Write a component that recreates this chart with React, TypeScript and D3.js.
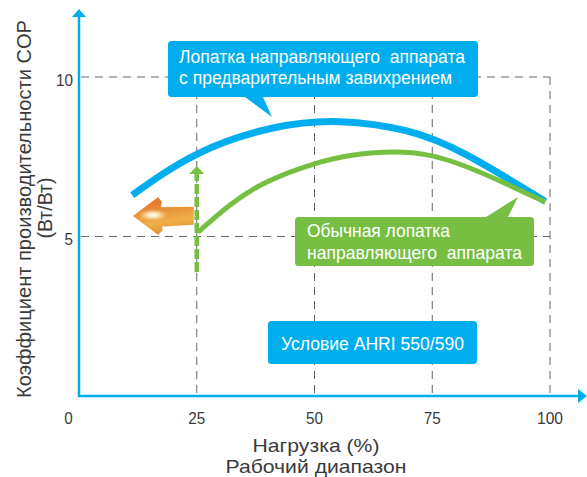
import React from 'react';
import * as d3 from 'd3';

const xTicks = [0, 25, 50, 75, 100];
const yTicks = [5, 10];

const blueLoad = [11.3, 25.3, 41.2, 55.4, 69.6, 82.4, 99];
const blueCop = [6.3, 7.6, 8.4, 8.6, 8.31, 7.55, 6.1];
const greenLoad = [25.3, 32, 40, 50, 58, 67, 75.2, 82.4, 89.4, 99];
const greenCop = [5.14, 5.98, 6.72, 7.28, 7.55, 7.65, 7.52, 7.18, 6.74, 6.08];

const blueLabel = ['Лопатка направляющего  аппарата', 'с предварительным завихрением'];
const blueLabelWidths = [286, 273];
const greenLabel = ['Обычная лопатка', 'направляющего  аппарата'];
const greenLabelWidths = [143, 215];
const conditionLabel = 'Условие AHRI 550/590';

const BLUE = '#00aeef';
const GREEN = '#76bf43';
const TEXT = '#3a3a3a';
const FONT = '"Liberation Sans", Arial, sans-serif';

const x = d3.scaleLinear().domain([0, 100]).range([79, 550]);
const y = d3.scaleLinear().domain([0, 10]).range([396, 77]);

const line = d3
  .line<[number, number]>()
  .x((d) => x(d[0]))
  .y((d) => y(d[1]))
  .curve(d3.curveNatural);

const pairs = (a: number[], b: number[]) => a.map((v, i) => [v, b[i]] as [number, number]);

function Callout({ box, tail, fill }: { box: number[]; tail: number[][]; fill: string }) {
  const [bx, by, bw, bh] = box;
  return (
    <g fill={fill}>
      <rect x={bx} y={by} width={bw} height={bh} rx={3.5} />
      {tail.length > 0 && <path d={`M${tail.map((p) => p.join(',')).join('L')}Z`} />}
    </g>
  );
}

export default function App() {
  return (
    <svg
      width={587}
      height={477}
      style={{ position: 'absolute', left: 0, top: 0, background: '#fff' }}
    >
      <defs>
        <linearGradient id="arrowFill" x1="0" x2="0.25" y1="0" y2="1">
          <stop offset="0.2" stopColor="#e67a2e" />
          <stop offset="0.75" stopColor="#eeb049" />
          <stop offset="1" stopColor="#e8943a" />
        </linearGradient>
        <radialGradient id="arrowGlow">
          <stop offset="0" stopColor="#fff" />
          <stop offset="0.35" stopColor="#fff4d8" stopOpacity={0.85} />
          <stop offset="1" stopColor="#fbd79a" stopOpacity={0} />
        </radialGradient>
      </defs>

      {/* dashed grid */}
      <g stroke="#666" strokeWidth={1} strokeDasharray="8 6" fill="none">
        {yTicks.map((t) => (
          <line key={t} x1={x(0) + 2} x2={x(100)} y1={y(t)} y2={y(t)} />
        ))}
        {xTicks.slice(1).map((t) => (
          <line key={t} x1={x(t)} x2={x(t)} y1={y(10)} y2={y(0)} />
        ))}
      </g>

      {/* axes */}
      <g stroke={BLUE} strokeWidth={2.5} fill="none">
        <line x1={x(0)} x2={x(0)} y1={y(0) + 1} y2={16} />
        <line x1={x(0) - 1} x2={578} y1={y(0)} y2={y(0)} />
      </g>
      <path d={`M${x(0)},9L${x(0) - 7},17L${x(0) + 7},17Z`} fill={BLUE} />
      <path d={`M587,${y(0)}L578,${y(0) - 7}L578,${y(0) + 7}Z`} fill={BLUE} />

      {/* curves */}
      <path d={line(pairs(blueLoad, blueCop)) || ''} fill="none" stroke={BLUE} strokeWidth={7} />
      <path d={line(pairs(greenLoad, greenCop)) || ''} fill="none" stroke={GREEN} strokeWidth={5} />

      {/* green dashed arrow */}
      <line x1={x(25)} x2={x(25)} y1={272} y2={174} stroke={GREEN} strokeWidth={4.5} strokeDasharray="10 3" />
      <path d={`M${x(25)},166L${x(25) - 7.5},174L${x(25) + 7.5},174Z`} fill={GREEN} />

      {/* orange arrow */}
      <path
        d="M134,216L158,198L161,202L160,208L193,207.5L193,224L161,226L162,230L158,234Z"
        fill="url(#arrowFill)"
        stroke="url(#arrowFill)"
        strokeWidth={1.5}
        strokeLinejoin="round"
      />
      <ellipse cx={153} cy={215} rx={15} ry={6} fill="url(#arrowGlow)" />

      {/* callouts */}
      <Callout box={[168, 41, 310, 56]} tail={[[245, 97], [272, 117], [263, 97]]} fill={BLUE} />
      <Callout box={[295, 217, 239, 49]} tail={[[486, 217], [518, 197], [508, 217]]} fill={GREEN} />
      <Callout box={[268, 321, 209, 43]} tail={[]} fill={BLUE} />

      <g fontFamily={FONT} fontSize={18.5} fill="#fff">
        {blueLabel.map((s, i) => (
          <text
            key={s}
            x={179}
            y={62.5 + i * 21.5}
            xmlSpace="preserve"
            textLength={blueLabelWidths[i]}
            lengthAdjust="spacingAndGlyphs"
          >
            {s}
          </text>
        ))}
        {greenLabel.map((s, i) => (
          <text
            key={s}
            x={307}
            y={237 + i * 21.5}
            xmlSpace="preserve"
            textLength={greenLabelWidths[i]}
            lengthAdjust="spacingAndGlyphs"
          >
            {s}
          </text>
        ))}
        <text x={281} y={350} textLength={183} lengthAdjust="spacingAndGlyphs">
          {conditionLabel}
        </text>
      </g>

      {/* tick labels */}
      <g fontFamily={FONT} fontSize={17} fill={TEXT}>
        {xTicks.map((t) => (
          <text
            key={t}
            x={t === 0 ? 68.5 : x(t)}
            y={424}
            textAnchor="middle"
            textLength={t === 0 ? 8.5 : t === 100 ? 26 : 17}
            lengthAdjust="spacingAndGlyphs"
          >
            {t}
          </text>
        ))}
        {yTicks.map((t) => (
          <text
            key={t}
            x={73}
            y={y(t) + 8.5}
            textAnchor="end"
            textLength={t === 10 ? 17 : 8.5}
            lengthAdjust="spacingAndGlyphs"
          >
            {t}
          </text>
        ))}
      </g>

      {/* axis titles */}
      <g fontFamily={FONT} fontSize={18.5} fill={TEXT} textAnchor="middle">
        <text x={316} y={451.5} textLength={127} lengthAdjust="spacingAndGlyphs">Нагрузка (%)</text>
        <text x={316} y={473} textLength={181} lengthAdjust="spacingAndGlyphs">Рабочий диапазон</text>
        <text
          transform="translate(31,209) rotate(-90)"
          fontSize={20}
          textLength={378}
          lengthAdjust="spacingAndGlyphs"
        >
          Коэффициент производительности COP
        </text>
        <text
          transform="translate(52,208) rotate(-90)"
          fontSize={20}
          textLength={61}
          lengthAdjust="spacingAndGlyphs"
        >
          (Вт/Вт)
        </text>
      </g>
    </svg>
  );
}
